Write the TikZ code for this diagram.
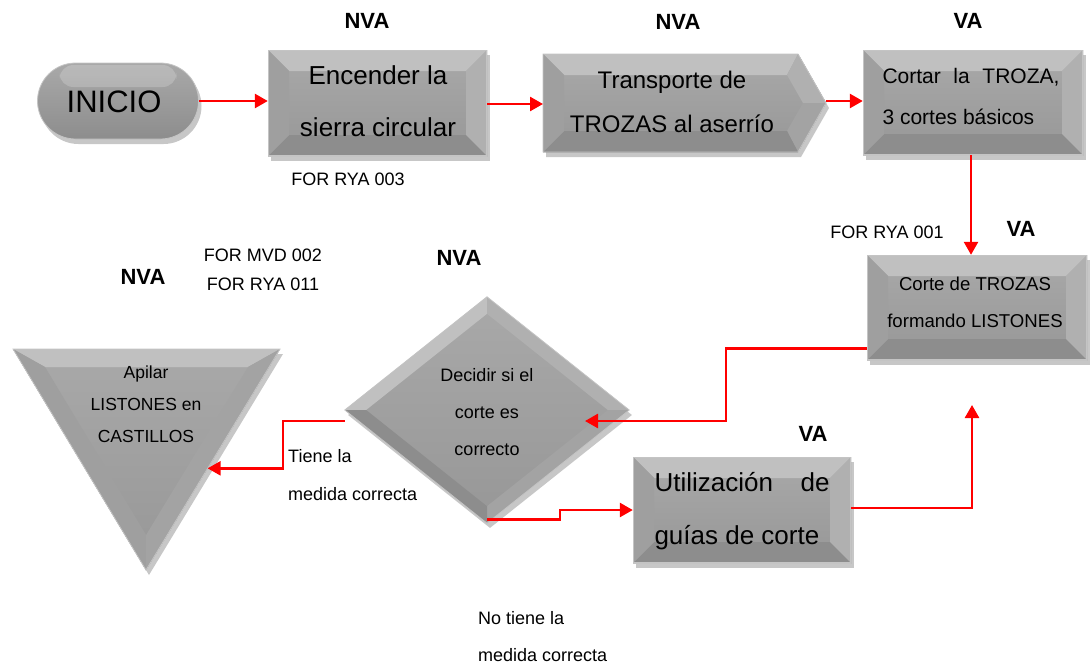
\documentclass[tikz,border=0pt]{standalone}
\usepackage{fontspec}
\setmainfont{Liberation Sans}
\usetikzlibrary{arrows.meta,shadows,shapes.geometric,calc}
\definecolor{faceT}{HTML}{A9A9A9}
\definecolor{faceB}{HTML}{979797}
\definecolor{bevT}{HTML}{C0C0C0}
\definecolor{bevL}{HTML}{9F9F9F}
\definecolor{bevR}{HTML}{B0B0B0}
\definecolor{bevRd}{HTML}{A3A3A3}
\definecolor{bevB}{HTML}{8D8D8D}
\definecolor{edge}{HTML}{C4C4C4}
\definecolor{arr}{HTML}{FF0000}
\newcommand{\bw}{21pt}
\begin{document}
\begin{tikzpicture}[x=1pt,y=-1pt,
  conn/.style={draw=arr, line width=2.6pt, -{Triangle[length=13pt,width=14pt]}},
  shad/.style={drop shadow={shadow xshift=3pt,shadow yshift=-5pt,opacity=.22,fill=black}},
  bevbox/.style={rectangle, inner sep=0pt, top color=faceT, bottom color=faceB, shad,
    path picture={
      \path (path picture bounding box.north west) coordinate (bnw)
            (path picture bounding box.north east) coordinate (bne)
            (path picture bounding box.south west) coordinate (bsw)
            (path picture bounding box.south east) coordinate (bse);
      \fill[bevT] (bnw) -- (bne) -- ([xshift=-\bw,yshift=-\bw]bne) -- ([xshift=\bw,yshift=-\bw]bnw) -- cycle;
      \fill[bevB] (bsw) -- (bse) -- ([xshift=-\bw,yshift=\bw]bse) -- ([xshift=\bw,yshift=\bw]bsw) -- cycle;
      \fill[bevL] (bnw) -- (bsw) -- ([xshift=\bw,yshift=\bw]bsw) -- ([xshift=\bw,yshift=-\bw]bnw) -- cycle;
      \fill[bevR] (bne) -- (bse) -- ([xshift=-\bw,yshift=\bw]bse) -- ([xshift=-\bw,yshift=-\bw]bne) -- cycle;
      \draw[edge, line width=1.5pt] (bnw) -- (bne) -- (bse) -- (bsw) -- cycle;
    }},
  txt/.style={inner sep=0pt, align=center},
  lbl/.style={inner sep=0pt, align=left, anchor=west, font=\fontsize{18}{37.5}\selectfont},
  tag/.style={inner sep=0pt, font=\bfseries\fontsize{22}{26}\selectfont},
  code/.style={inner sep=0pt, align=center, font=\fontsize{18}{29}\selectfont}
]
\useasboundingbox (0,0) rectangle (1090,664);

% INICIO
\node[rectangle, rounded corners=38pt, minimum width=161pt, minimum height=76pt, inner sep=0pt,
  top color=faceT, bottom color=bevB, shad, draw=edge, line width=.8pt,
  path picture={\fill[white,opacity=.2,rounded corners=14pt]
    ([xshift=22pt,yshift=-2pt]path picture bounding box.north west) rectangle
    ([xshift=-22pt,yshift=-24pt]path picture bounding box.north east);}] (INI) at (118,101) {};
\node[txt, font=\fontsize{31}{34}\selectfont] (INIt) at (114,102) {INICIO};

% Box 1
\node[bevbox, minimum width=219pt, minimum height=106pt] (B1) at (377.5,103) {};
\node[txt, font=\fontsize{26}{52}\selectfont] (B1t) at (378,101) {Encender la\\sierra circular};

% Box 2 (pentagon)
\coordinate (P1) at (543,54); \coordinate (P2) at (798,54); \coordinate (P3) at (826,103);
\coordinate (P4) at (798,152); \coordinate (P5) at (543,152);
\coordinate (Q1) at (564,75); \coordinate (Q2) at (787,75); \coordinate (Q3) at (803,103);
\coordinate (Q4) at (787,131); \coordinate (Q5) at (564,131);
\fill[black,opacity=.22] ([xshift=3pt,yshift=-5pt]P1) -- ([xshift=3pt,yshift=-5pt]P2) -- ([xshift=3pt,yshift=-5pt]P3) -- ([xshift=3pt,yshift=-5pt]P4) -- ([xshift=3pt,yshift=-5pt]P5) -- cycle;
\fill[top color=faceT, bottom color=faceB] (P1) -- (P2) -- (P3) -- (P4) -- (P5) -- cycle;
\fill[bevT] (P1) -- (P2) -- (Q2) -- (Q1) -- cycle;
\fill[bevR] (P2) -- (P3) -- (Q3) -- (Q2) -- cycle;
\fill[bevRd] (P3) -- (P4) -- (Q4) -- (Q3) -- cycle;
\fill[bevB] (P4) -- (P5) -- (Q5) -- (Q4) -- cycle;
\fill[bevL] (P5) -- (P1) -- (Q1) -- (Q5) -- cycle;
\draw[edge, line width=.8pt] (P1) -- (P2) -- (P3) -- (P4) -- (P5) -- cycle;
\coordinate (B2w) at (543,102);
\coordinate (B2tip) at (826,101);
\node[txt, font=\fontsize{24}{44}\selectfont] (B2) at (672,102) {Transporte de\\TROZAS al aserrío};

% Box 3
\node[bevbox, minimum width=220pt, minimum height=105pt] (B3) at (973,102.5) {};
\node[txt, font=\fontsize{21}{41}\selectfont] (B3t) at (971,96) {\makebox[177pt][s]{Cortar la TROZA,}\\\makebox[177pt][l]{3 cortes básicos}};

% Box 4
\node[bevbox, minimum width=220pt, minimum height=105pt] (B4) at (977,307.5) {};
\node[txt, font=\fontsize{18.6}{37}\selectfont] (B4t) at (975,302) {Corte de TROZAS\\formando LISTONES};

% Box 5
\node[bevbox, minimum width=218pt, minimum height=106pt] (B5) at (742,510) {};
\node[txt, font=\fontsize{26}{53}\selectfont] (B5t) at (742,511) {\makebox[175pt][s]{Utilización de}\\\makebox[175pt][l]{guías de corte}};

% Diamond
\node[diamond, minimum width=284pt, minimum height=226pt, inner sep=0pt,
  top color=faceT, bottom color=faceB, shad] (D) at (487,410) {};
\fill[bevT] (D.west) -- (D.north) -- ($(D.north)!.15!(D.center)$) -- ($(D.west)!.15!(D.center)$) -- cycle;
\fill[bevR] (D.north) -- (D.east) -- ($(D.east)!.15!(D.center)$) -- ($(D.north)!.15!(D.center)$) -- cycle;
\fill[bevRd] (D.east) -- (D.south) -- ($(D.south)!.15!(D.center)$) -- ($(D.east)!.15!(D.center)$) -- cycle;
\fill[bevB] (D.south) -- (D.west) -- ($(D.west)!.15!(D.center)$) -- ($(D.south)!.15!(D.center)$) -- cycle;
\draw[edge, line width=.8pt] (D.north) -- (D.east) -- (D.south) -- (D.west) -- cycle;
\node[txt, font=\fontsize{18}{37}\selectfont] (Dt) at (487,412) {Decidir si el\\corte es\\correcto};
\coordinate (Din) at (585,421);

% Triangle
\coordinate (TL) at (13,349); \coordinate (TR) at (280,349); \coordinate (TB) at (146,570);
\coordinate (TI) at (146.5,424);
\fill[black,opacity=.22] ([xshift=3pt,yshift=-5pt]TL) -- ([xshift=3pt,yshift=-5pt]TR) -- ([xshift=3pt,yshift=-5pt]TB) -- cycle;
\fill[top color=faceT, bottom color=faceB] (TL) -- (TR) -- (TB) -- cycle;
\fill[bevT] (TL) -- (TR) -- ($(TI)!.76!(TR)$) -- ($(TI)!.76!(TL)$) -- cycle;
\fill[bevL] (TL) -- (TB) -- ($(TI)!.76!(TB)$) -- ($(TI)!.76!(TL)$) -- cycle;
\fill[bevRd] (TR) -- (TB) -- ($(TI)!.76!(TB)$) -- ($(TI)!.76!(TR)$) -- cycle;
\draw[edge, line width=.8pt] (TL) -- (TR) -- (TB) -- cycle;
\coordinate (Tr) at ($(TR)!0.54!(TB)$);
\node[txt, font=\fontsize{17.5}{32}\selectfont] (T) at (146,404) {Apilar\\LISTONES en\\CASTILLOS};

% Up arrow free end
\coordinate (Up) at (972,405);

% Connectors
\draw[conn] (INI.east) -- (INI.east -| B1.west);
\draw[conn] ([yshift=-1pt]B1.east) -- ([yshift=-1pt]B1.east -| B2w);
\draw[conn] (B2tip) -- (B2tip -| B3.west);
\draw[conn] ([xshift=-2pt]B3.south) -- ([xshift=-2pt]B3.south |- B4.north);
\draw[conn] ([yshift=12pt]B4.south west) -- ++(-141,0) |- (Din);
\draw[conn] ([yshift=-11pt]D.west) -- ++(-62,0) |- (Tr);
\draw[conn] ([yshift=4pt]D.south) -- ++(73,0) |- (B5.west);
\draw[conn] ([yshift=2pt]B5.east) -| (Up);

% Tags and labels
\node[tag] (n1) at (367,21) {NVA};
\node[tag] (n2) at (678,22) {NVA};
\node[tag] (n3) at (968,21) {VA};
\node[tag] (n4) at (1021,229) {VA};
\node[tag] (n5) at (143,277) {NVA};
\node[tag] (n6) at (459,258) {NVA};
\node[tag] (n7) at (813,434) {VA};
\node[code] (c1) at (348,179) {FOR RYA 003};
\node[code] (c2) at (887,232) {FOR RYA 001};
\node[code] (c3) at (263,269.5) {FOR MVD 002\\FOR RYA 011};
\node[lbl] (l1) at (288,475) {Tiene la\\medida correcta};
\node[lbl] (l2) at (478,636.5) {No tiene la\\medida correcta};
\end{tikzpicture}
\end{document}
